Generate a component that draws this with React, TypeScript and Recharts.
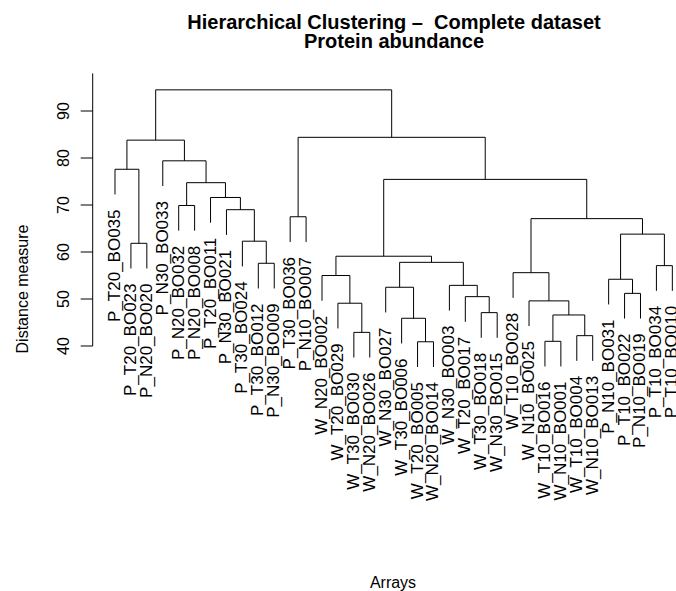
import React from 'react';
import { ScatterChart, Scatter, XAxis, YAxis, ReferenceLine } from 'recharts';

// Leaf labels in dendrogram order (left to right)
const LEAF_LABELS = [
  'P_T20_BO035', 'P_T20_BO023', 'P_N20_BO020', 'P_N30_BO033', 'P_N20_BO032', 'P_N20_BO008',
  'P_T20_BO011', 'P_N30_BO021', 'P_T30_BO024', 'P_T30_BO012', 'P_N30_BO009', 'P_T30_BO036',
  'P_N10_BO007', 'W_N20_BO002', 'W_T20_BO029', 'W_T30_BO030', 'W_N20_BO026', 'W_N30_BO027',
  'W_T30_BO006', 'W_T20_BO005', 'W_N20_BO014', 'W_N30_BO003', 'W_T20_BO017', 'W_T30_BO018',
  'W_N30_BO015', 'W_T10_BO028', 'W_N10_BO025', 'W_T10_BO016', 'W_N10_BO001', 'W_T10_BO004',
  'W_N10_BO013', 'P_N10_BO031', 'P_T10_BO022', 'P_N10_BO019', 'P_T10_BO034', 'P_T10_BO010',
];

// hclust style merges: negative = leaf position (1-based), positive = earlier merge row
const MERGE_LEFT = [-20, -28, -30, -16, -19, 2, -24, -15, -27, -23, -33, -18, -22, -32, -14, -26, -35, -10, 12, 15, -2, -9, 14, 16, -12, -8, -5, -7, 27, 20, -1, -4, 31, 25, 33];
const MERGE_RIGHT = [-21, -29, -31, -17, 1, 3, -25, 4, 6, 7, -34, 5, 10, 11, 8, 9, -36, -11, 13, 19, -3, 18, 17, 23, -13, 22, -6, 26, 28, 24, 21, 29, 32, 30, 34];
const MERGE_HEIGHT = [40.9, 41.0, 42.2, 42.9, 45.9, 46.6, 47.1, 49.1, 49.6, 50.5, 51.2, 52.5, 52.9, 54.2, 55.0, 55.6, 57.1, 57.6, 57.8, 59.1, 61.85, 62.3, 63.8, 67.1, 67.5, 69.0, 69.9, 71.6, 74.75, 75.45, 77.6, 79.4, 83.8, 84.4, 94.5];

const Y_TICKS = [40, 50, 60, 70, 80, 90];

const FONT = '"Liberation Sans", Arial, Helvetica, sans-serif';

// R's plot.hclust default: leaves hang 10% of the height range below their parent
const HANG = 0.1 * (Math.max(...MERGE_HEIGHT) - Math.min(...MERGE_HEIGHT));

type Pt = { x: number; y: number };

function buildTree() {
  const nodeX: number[] = [];
  const segments: Pt[][] = [];
  const leaves: { x: number; y: number; label: string }[] = [];

  const childPos = (ref: number, parentH: number): Pt => {
    if (ref < 0) {
      const x = -ref;
      leaves.push({ x, y: parentH - HANG, label: LEAF_LABELS[x - 1] });
      return { x, y: parentH - HANG };
    }
    return { x: nodeX[ref - 1], y: MERGE_HEIGHT[ref - 1] };
  };

  MERGE_HEIGHT.forEach((h, i) => {
    const l = childPos(MERGE_LEFT[i], h);
    const r = childPos(MERGE_RIGHT[i], h);
    nodeX.push((l.x + r.x) / 2);
    segments.push([l, { x: l.x, y: h }, { x: r.x, y: h }, r]);
  });

  leaves.sort((a, b) => a.x - b.x);
  return { segments, leaves };
}

const { segments, leaves } = buildTree();

function YTick({ x, y, payload }: any) {
  return (
    <text
      x={x}
      y={y}
      transform={`rotate(-90 ${x} ${y})`}
      textAnchor="middle"
      fontSize={16}
      fontFamily={FONT}
      fill="#000"
    >
      {payload.value}
    </text>
  );
}

function LeafLabel({ cx, cy, payload }: any) {
  const x = cx + 5;
  const y = cy + 15;
  return (
    <text
      x={x}
      y={y}
      transform={`rotate(-90 ${x} ${y})`}
      textAnchor="end"
      fontSize={17}
      fontFamily={FONT}
      fill="#000"
    >
      {payload.label}
    </text>
  );
}

export default function App() {
  return (
    <div style={{ position: 'absolute', left: 0, top: 0, width: 676, height: 591, background: '#fff' }}>
      <ScatterChart width={676} height={591} margin={{ top: 73.4, right: 0, bottom: 212.1, left: 32.7 }}>
        <XAxis type="number" dataKey="x" domain={[-0.4, 36.23]} hide />
        <YAxis
          type="number"
          dataKey="y"
          domain={[33, 98]}
          ticks={Y_TICKS}
          width={60}
          axisLine={false}
          tickLine={{ stroke: '#000' }}
          tickSize={12}
          tickMargin={12}
          tick={<YTick />}
        />
        <ReferenceLine
          segment={[{ x: -0.4, y: 40 }, { x: -0.4, y: 98 }]}
          stroke="#000"
          ifOverflow="visible"
        />
        {segments.map((seg, i) => (
          <Scatter
            key={i}
            data={seg}
            line={{ stroke: '#000', strokeWidth: 1 }}
            lineJointType="linear"
            shape={() => <g />}
            isAnimationActive={false}
          />
        ))}
        <Scatter data={leaves} shape={<LeafLabel />} isAnimationActive={false} />
      </ScatterChart>
      <svg
        width={676}
        height={591}
        style={{ position: 'absolute', left: 0, top: 0, pointerEvents: 'none' }}
        fontFamily={FONT}
      >
        <text x={394} y={28.7} textAnchor="middle" fontSize={20} fontWeight="bold" style={{ whiteSpace: 'pre' }}>
          {'Hierarchical Clustering \u2013  Complete dataset'}
        </text>
        <text x={394} y={47.7} textAnchor="middle" fontSize={20} fontWeight="bold">
          Protein abundance
        </text>
        <text x={393} y={588} textAnchor="middle" fontSize={16}>
          Arrays
        </text>
        <text x={28.3} y={289} transform="rotate(-90 28.3 289)" textAnchor="middle" fontSize={16}>
          Distance measure
        </text>
      </svg>
    </div>
  );
}
